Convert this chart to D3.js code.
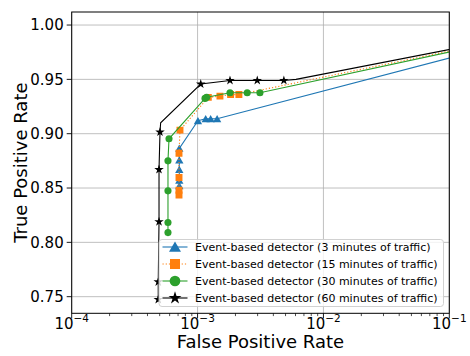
<!DOCTYPE html>
<html>
<head>
<meta charset="utf-8">
<script src="https://cdn.jsdelivr.net/npm/d3@7"></script>
<style>
  html, body { margin: 0; padding: 0; background: #fff; }
  svg { display: block; font-family: "DejaVu Sans", sans-serif; }
</style>
</head>
<body>
<svg id="chart" width="470" height="356"></svg>
<script>
// ---- data ----
const seriesLabels = [
  "Event-based detector (3 minutes of traffic)",
  "Event-based detector (15 minutes of traffic)",
  "Event-based detector (30 minutes of traffic)",
  "Event-based detector (60 minutes of traffic)"
];
// 3 minutes
const fpr3 = [7.16e-4, 7.16e-4, 7.16e-4, 7.16e-4, 7.16e-4, 1.007e-3, 1.16e-3, 1.27e-3, 1.43e-3, 1];
const tpr3 = [0.852, 0.857, 0.867, 0.8757, 0.8865, 0.9119, 0.9137, 0.9137, 0.9137, 1];
// 15 minutes
const fpr15 = [7.12e-4, 7.12e-4, 7.12e-4, 7.12e-4, 7.25e-4, 1.217e-3, 1.506e-3, 1.83e-3, 2.13e-3, 1];
const tpr15 = [0.8435, 0.848, 0.8597, 0.882, 0.9033, 0.9334, 0.9346, 0.936, 0.936, 1];
// 30 minutes
const fpr30 = [5.82e-4, 5.82e-4, 5.82e-4, 5.82e-4, 5.93e-4, 1.146e-3, 1.18e-3, 1.81e-3, 2.48e-3, 3.13e-3, 1];
const tpr30 = [0.809, 0.8183, 0.8474, 0.875, 0.8953, 0.9325, 0.9335, 0.9377, 0.9377, 0.9377, 1];
// 60 minutes
const fpr60 = [4.87e-4, 4.87e-4, 4.94e-4, 4.94e-4, 5.03e-4, 5.09e-4, 1.06e-3, 1.81e-3, 2.98e-3, 4.85e-3, 6.05e-3, 1];
const tpr60 = [0.7474, 0.7636, 0.819, 0.867, 0.9015, 0.910, 0.9457, 0.949, 0.949, 0.949, 0.950, 1];
const mark60 = [1, 1, 1, 1, 1, 0, 1, 1, 1, 1, 0, 1];

const xTickExps = [-4, -3, -2, -1];
const yTicks = [0.75, 0.80, 0.85, 0.90, 0.95, 1.00];
const xLabel = "False Positive Rate";
const yLabel = "True Positive Rate";

// ---- layout ----
const L = 71.7, R = 449.3, T = 12, B = 313.3;
const svg = d3.select("#chart");
const x = d3.scaleLog().domain([1e-4, 1e-1]).range([L, R]);
const y = d3.scaleLinear().domain([0.7347, 1.012]).range([B, T]);

svg.append("defs").append("clipPath").attr("id", "clip")
  .append("rect").attr("x", L).attr("y", T).attr("width", R - L).attr("height", B - T);

// grid
const grid = svg.append("g");
grid.selectAll("line.gx").data(xTickExps.map(e => Math.pow(10, e))).join("line")
  .attr("x1", d => x(d)).attr("x2", d => x(d)).attr("y1", T).attr("y2", B)
  .attr("stroke", "#b0b0b0").attr("stroke-width", 0.8);
grid.selectAll("line.gy").data(yTicks).join("line")
  .attr("x1", L).attr("x2", R).attr("y1", d => y(d)).attr("y2", d => y(d))
  .attr("stroke", "#b0b0b0").attr("stroke-width", 0.8);

// marker symbols
const sym = {
  tri: d3.symbolTriangle, sq: d3.symbolSquare, circ: d3.symbolCircle, star: d3.symbolStar
};
function markerPath(type, size) {
  return d3.symbol().type(sym[type]).size(size)();
}

const series = [
  { fpr: fpr3, tpr: tpr3, mark: null, color: "#1f77b4", dash: null, m: "tri", size: 30, lsize: 62 },
  { fpr: fpr15, tpr: tpr15, mark: null, color: "#ff7f0e", dash: "1.2,2", m: "sq", size: 48, lsize: 100 },
  { fpr: fpr30, tpr: tpr30, mark: null, color: "#2ca02c", dash: null, m: "circ", size: 40, lsize: 90 },
  { fpr: fpr60, tpr: tpr60, mark: mark60, color: "#000000", dash: null, m: "star", size: 28, lsize: 52 }
];

const plot = svg.append("g").attr("clip-path", "url(#clip)");
const line = d3.line().x(d => x(d[0])).y(d => y(d[1]));
series.forEach(s => {
  const pts = s.fpr.map((f, i) => [f, s.tpr[i], s.mark ? s.mark[i] : 1]);
  plot.append("path").datum(pts).attr("d", line)
    .attr("fill", "none").attr("stroke", s.color).attr("stroke-width", 1.1)
    .attr("stroke-dasharray", s.dash);
  plot.selectAll(null).data(pts.filter(p => p[2])).join("path")
    .attr("d", markerPath(s.m, s.size))
    .attr("transform", p => `translate(${x(p[0])},${y(p[1])})` + (s.m === "tri" ? " translate(0,1)" : ""))
    .attr("fill", s.color);
});

// spines
svg.append("rect").attr("x", L).attr("y", T).attr("width", R - L).attr("height", B - T)
  .attr("fill", "none").attr("stroke", "#000").attr("stroke-width", 1);

// y ticks
const yt = svg.append("g");
yTicks.forEach(v => {
  yt.append("line").attr("x1", L - 5).attr("x2", L).attr("y1", y(v)).attr("y2", y(v))
    .attr("stroke", "#000").attr("stroke-width", 0.9);
  yt.append("text").attr("x", L - 8).attr("y", y(v)).attr("dy", "0.36em")
    .attr("text-anchor", "end").attr("font-size", 15).attr("fill", "#000")
    .text(v.toFixed(2));
});

// x ticks (major + minor)
const xt = svg.append("g");
xTickExps.forEach(e => {
  const v = Math.pow(10, e);
  xt.append("line").attr("x1", x(v)).attr("x2", x(v)).attr("y1", B).attr("y2", B + 5)
    .attr("stroke", "#000").attr("stroke-width", 0.9);
  const t = xt.append("text").attr("x", x(v)).attr("y", B + 15.2)
    .attr("text-anchor", "middle").attr("font-size", 15).attr("fill", "#000");
  t.append("tspan").text("10");
  t.append("tspan").attr("font-size", 10.5).attr("dy", -7).text("\u2212" + Math.abs(e));
  if (e < -1) {
    for (let k = 2; k <= 9; k++) {
      const mv = k * v;
      xt.append("line").attr("x1", x(mv)).attr("x2", x(mv)).attr("y1", B).attr("y2", B + 2.8)
        .attr("stroke", "#000").attr("stroke-width", 0.7);
    }
  }
});

// axis labels
svg.append("text").attr("x", (L + R) / 2).attr("y", 348.3).attr("text-anchor", "middle")
  .attr("font-size", 18).attr("fill", "#000").text(xLabel);
svg.append("text").attr("transform", `translate(26.5,${(T + B) / 2}) rotate(-90)`)
  .attr("text-anchor", "middle").attr("font-size", 18).attr("fill", "#000").text(yLabel);

// legend
const lg = svg.append("g");
lg.append("rect").attr("x", 159).attr("y", 239.5).attr("width", 284.5).attr("height", 67)
  .attr("rx", 3).attr("fill", "#fff").attr("fill-opacity", 0.8)
  .attr("stroke", "#cccccc").attr("stroke-width", 0.9);
series.forEach((s, i) => {
  const cy = 247 + i * 17;
  lg.append("line").attr("x1", 162.5).attr("x2", 187.5).attr("y1", cy).attr("y2", cy)
    .attr("stroke", s.color).attr("stroke-width", 1.1).attr("stroke-dasharray", s.dash);
  lg.append("path").attr("d", markerPath(s.m, s.lsize))
    .attr("transform", `translate(175,${cy + (s.m === "tri" ? 1.3 : 0)})`).attr("fill", s.color);
  lg.append("text").attr("x", 195).attr("y", cy).attr("dy", "0.36em")
    .attr("font-size", 11).attr("fill", "#000").text(seriesLabels[i]);
});
</script>
</body>
</html>
